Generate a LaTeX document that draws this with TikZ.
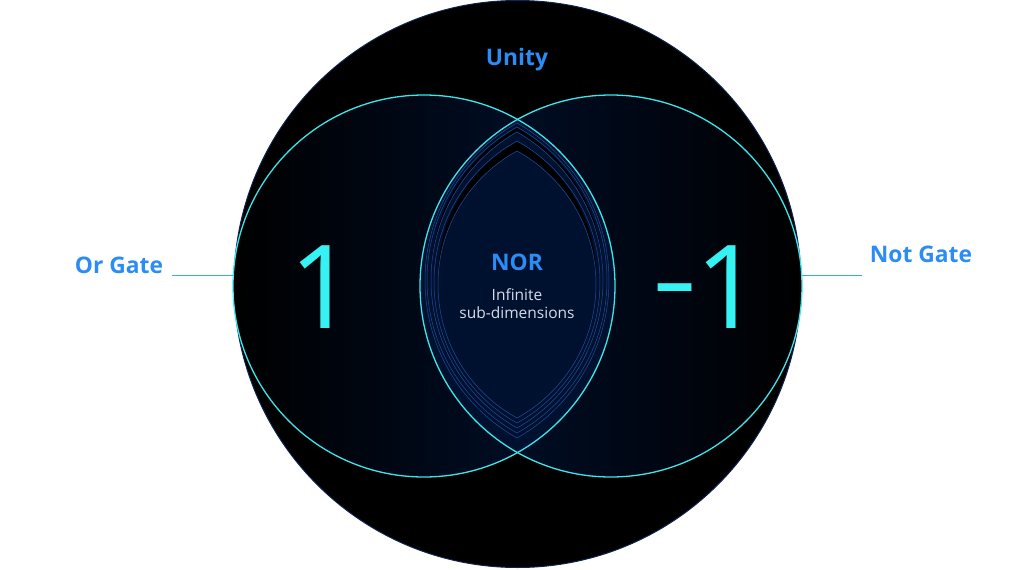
\documentclass[tikz,border=0pt]{standalone}
\usepackage{fontspec}
\setmainfont{Open Sans}
\usepackage{xcolor}
\usepackage{tikz}
\usetikzlibrary{positioning,calc}
\definecolor{gateblue}{HTML}{2B8CF6}
\definecolor{ringcyan}{HTML}{3CE6EA}
\definecolor{digitcyan}{HTML}{36F2F2}
\definecolor{deepnavy}{HTML}{00112F}
\definecolor{lensline}{HTML}{1D4E9E}
\definecolor{rimnavy}{HTML}{0D2250}
\definecolor{paletext}{HTML}{D6DCE8}
\tikzset{
  gatelbl/.style={font=\fontsize{22.8}{26}\selectfont\bfseries, text=gateblue, inner sep=0pt},
  ring/.style={draw=ringcyan, line width=1.3pt},
  lead/.style={draw=gateblue!60!ringcyan, line width=0.8pt},
  digit/.style={font=\fontsize{116}{120}\selectfont, text=digitcyan, inner sep=0pt},
  disc/.style={circle, inner sep=0pt, minimum size=382pt},
}

\begin{document}
\begin{tikzpicture}[x=1pt, y=-1pt,
  sub/.style={font=\fontsize{15.5}{18}\selectfont, text=paletext, inner sep=0pt},
  inner/.style={draw=lensline, line width=0.5pt},
]
  \useasboundingbox (0,0) rectangle (1034,570);
  \node[circle, fill=black, draw=rimnavy, line width=1pt, inner sep=0pt, minimum size=567pt] (unity) at (517.5,284) {};
  \node[disc, left color=black, right color=deepnavy] (orc) at (424,286) {};
  \node[disc, left color=deepnavy, right color=black] (notc) at (611,286) {};

  \begin{scope}
    \clip (orc.center) circle[radius=191pt];
    \fill[deepnavy] (notc.center) circle[radius=191pt];
  \end{scope}

  \foreach \t/\b/\w/\s in {123/438/92/0, 127/433/90/0, 132/428/86/4, 141/423/83/0, 151/418/79/9} {
    \pgfmathsetmacro\cy{(\t+\b)/2}
    \pgfmathsetmacro\hh{(\b-\t)/20}
    \pgfmathsetmacro\rr{((\hh*\hh+(\w/10)*(\w/10))/\w)*50}
    \pgfmathsetmacro\dx{\rr-\w}
    \begin{scope}
      \clip (517-\dx,\cy-\s) circle[radius=\rr pt];
      \fill[black] (517+\dx,\cy-\s) circle[radius=\rr pt];
    \end{scope}
    \begin{scope}
      \clip (517-\dx,\cy) circle[radius=\rr pt];
      \fill[deepnavy] (517+\dx,\cy) circle[radius=\rr pt];
      \draw[inner] (517+\dx,\cy) circle[radius=\rr pt];
    \end{scope}
    \begin{scope}
      \clip (517+\dx,\cy) circle[radius=\rr pt];
      \draw[inner] (517-\dx,\cy) circle[radius=\rr pt];
    \end{scope}
  }

  \draw[ring] (orc.center) circle[radius=191pt];
  \draw[ring] (notc.center) circle[radius=191pt];

  \node[gatelbl, anchor=base] (unitylbl) at (517,65) {Unity};
  \node[gatelbl, anchor=base] (norlbl) at (517,270) {NOR};
  \node[sub, anchor=base] (inflbl) at (517,300) {Infinite};
  \node[sub, anchor=base] (sublbl) at (517,318) {sub-dimensions};
  \node[digit, anchor=base] (one) at (323,328) {1};
  \node[digit, anchor=base] (minusone) at (708,328) {\scalebox{0.62}[1]{−}1};

  \node[gatelbl] (orlbl) at (119,265) {Or Gate};
  \node[gatelbl] (notlbl) at (921,254) {Not Gate};
  \coordinate (orend) at (172,275);
  \coordinate (notend) at (862,275);
  \draw[lead] (orend) -- (orend -| orc.west);
  \draw[lead] (notc.east |- notend) -- (notend);
\end{tikzpicture}
\end{document}
